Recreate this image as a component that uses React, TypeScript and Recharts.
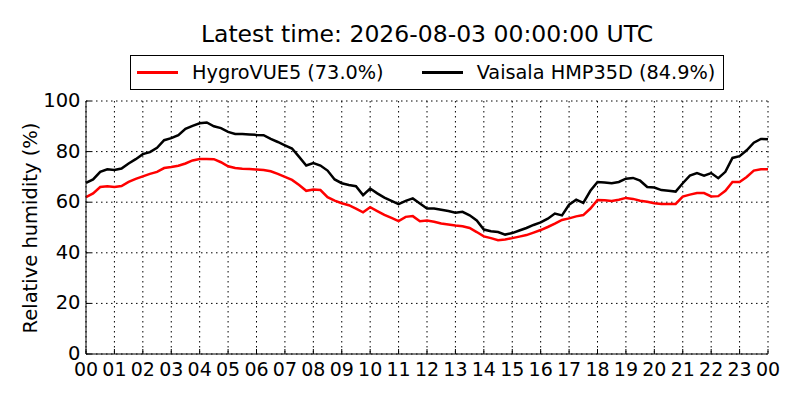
import { LineChart, Line, XAxis, YAxis, CartesianGrid } from 'recharts'

// hours since 00 UTC, 15 min steps
const HOURS = [
  0, 0.25, 0.5, 0.75, 1, 1.25, 1.5, 1.75, 2, 2.25, 2.5, 2.75, 3, 3.25, 3.5, 3.75,
  4, 4.25, 4.5, 4.75, 5, 5.25, 5.5, 5.75, 6, 6.25, 6.5, 6.75, 7, 7.25, 7.5, 7.75,
  8, 8.25, 8.5, 8.75, 9, 9.25, 9.5, 9.75, 10, 10.25, 10.5, 10.75, 11, 11.25, 11.5, 11.75,
  12, 12.25, 12.5, 12.75, 13, 13.25, 13.5, 13.75, 14, 14.25, 14.5, 14.75, 15, 15.25, 15.5, 15.75,
  16, 16.25, 16.5, 16.75, 17, 17.25, 17.5, 17.75, 18, 18.25, 18.5, 18.75, 19, 19.25, 19.5, 19.75,
  20, 20.25, 20.5, 20.75, 21, 21.25, 21.5, 21.75, 22, 22.25, 22.5, 22.75, 23, 23.25, 23.5, 23.75, 24
]

const HYGROVUE = [
  62.0, 63.5, 66.0, 66.3, 66.0, 66.4, 68.0, 69.2, 70.2, 71.2, 72.0, 73.5, 73.9, 74.4, 75.3, 76.5,
  77.1, 77.1, 77.0, 75.8, 74.2, 73.5, 73.2, 73.1, 72.9, 72.7, 72.2, 71.2, 70.0, 68.8, 66.8, 64.5,
  65.0, 64.8, 62.0, 60.6, 59.6, 58.8, 57.5, 56.0, 58.0, 56.5, 55.0, 53.8, 52.5, 54.2, 54.5, 52.5,
  52.8, 52.3, 51.6, 51.2, 50.8, 50.5, 49.8, 48.2, 46.5, 45.8, 45.0, 45.3, 45.8, 46.4, 47.0, 48.0,
  49.0, 50.2, 51.5, 53.0, 53.6, 54.4, 54.9, 57.5, 60.9, 60.8, 60.5, 61.0, 61.7, 61.3, 60.6, 60.2,
  59.6, 59.3, 59.3, 59.3, 62.2, 63.0, 63.6, 63.6, 62.3, 62.4, 64.5, 68.0, 68.0, 70.0, 72.5, 73.0, 73.0
]

const VAISALA = [
  67.6, 69.0, 72.0, 73.0, 72.7, 73.3, 75.3, 77.0, 79.0, 79.8, 81.5, 84.5, 85.3, 86.5, 89.0, 90.2,
  91.2, 91.5, 90.0, 89.3, 87.8, 87.0, 87.0, 86.8, 86.6, 86.5, 85.0, 83.8, 82.5, 81.2, 77.9, 74.5,
  75.5, 74.5, 72.5, 69.0, 67.5, 66.8, 66.3, 62.8, 65.4, 63.5, 61.8, 60.5, 59.2, 60.5, 61.5, 59.5,
  57.5, 57.5, 57.0, 56.5, 55.8, 56.2, 54.8, 52.8, 49.2, 48.5, 48.2, 47.2, 47.8, 48.8, 49.8, 51.0,
  52.0, 53.5, 55.5, 54.8, 59.0, 61.0, 59.7, 64.5, 68.0, 67.8, 67.5, 68.0, 69.3, 69.6, 68.5, 66.0,
  65.8, 64.8, 64.5, 64.2, 67.5, 70.5, 71.5, 70.5, 71.5, 69.5, 72.0, 77.5, 78.2, 80.5, 83.5, 85.0, 84.9
]

const X_TICKS = [0, 1, 2, 3, 4, 5, 6, 7, 8, 9, 10, 11, 12, 13, 14, 15, 16, 17, 18, 19, 20, 21, 22, 23, 24]
const Y_TICKS = [0, 20, 40, 60, 80, 100]

const TITLE = 'Latest time: 2026-08-03 00:00:00 UTC'
const FONT = '"DejaVu Sans", sans-serif'

const data = HOURS.map((h, i) => ({ h, hygro: HYGROVUE[i], vaisala: VAISALA[i] }))

const SERIES = [
  { key: 'hygro', name: 'HygroVUE5', color: '#ff0000', last: HYGROVUE[HYGROVUE.length - 1] },
  { key: 'vaisala', name: 'Vaisala HMP35D', color: '#000000', last: VAISALA[VAISALA.length - 1] }
]

const hourLabel = (h: number) => String(h % 24).padStart(2, '0')

function BottomTick({ x, y, payload }: any) {
  return (
    <g>
      <line x1={x} x2={x} y1={y} y2={y - 5} stroke="#000" />
      <text x={x} y={y + 22} textAnchor="middle" fontSize={19} fontFamily={FONT} fill="#000">
        {hourLabel(payload.value)}
      </text>
    </g>
  )
}

function TopTick({ x, y }: any) {
  return <line x1={x} x2={x} y1={y} y2={y + 5} stroke="#000" />
}

function LeftTick({ x, y, payload }: any) {
  return (
    <g>
      <line x1={x} x2={x + 5} y1={y} y2={y} stroke="#000" />
      <text x={x - 5.5} y={y + 6} textAnchor="end" fontSize={19.5} fontFamily={FONT} fill="#000">
        {payload.value}
      </text>
    </g>
  )
}

function RightTick({ x, y }: any) {
  return <line x1={x} x2={x - 5} y1={y} y2={y} stroke="#000" />
}

export default function App() {
  return (
    <div style={{ position: 'absolute', left: 0, top: 0, width: 800, height: 400, background: '#fff', fontFamily: FONT }}>
      <div style={{ position: 'absolute', left: 86, width: 682, top: 20, textAlign: 'center', fontSize: 23.5, lineHeight: '28px', color: '#000', whiteSpace: 'nowrap' }}>
        {TITLE}
      </div>
      <div
        style={{
          position: 'absolute', left: 130, top: 55, width: 592, height: 33, border: '1px solid #000',
          display: 'flex', alignItems: 'center', fontSize: 19.3, color: '#000', whiteSpace: 'nowrap'
        }}
      >
        {SERIES.map((s, i) => (
          <div key={s.key} style={{ display: 'flex', alignItems: 'center', marginLeft: i === 0 ? 6 : 38 }}>
            <div style={{ width: 41, height: 3, background: s.color, marginRight: 14 }} />
            <span>{`${s.name} (${s.last.toFixed(1)}%)`}</span>
          </div>
        ))}
      </div>
      <div
        style={{
          position: 'absolute', left: 30, top: 228, transform: 'translate(-50%, -50%) rotate(-90deg)',
          fontSize: 19.5, whiteSpace: 'nowrap', color: '#000'
        }}
      >
        Relative humidity (%)
      </div>
      <div style={{ position: 'absolute', left: 0, top: 0 }}>
        <LineChart width={800} height={400} data={data} margin={{ top: 101, right: 32, bottom: 0, left: 0 }}>
          <CartesianGrid stroke="#000" strokeDasharray="1.5 3.5" strokeWidth={1} />
          <XAxis
            dataKey="h" type="number" domain={[0, 24]} ticks={X_TICKS} height={46}
            tickSize={0} tickMargin={0} tick={<BottomTick />} axisLine={{ stroke: '#000' }} interval={0}
          />
          <XAxis
            xAxisId="top" orientation="top" dataKey="h" type="number" domain={[0, 24]} ticks={X_TICKS}
            height={0} tickSize={0} tickMargin={0} tick={<TopTick />} axisLine={{ stroke: '#000' }} interval={0}
          />
          <YAxis
            type="number" domain={[0, 100]} ticks={Y_TICKS} width={86} tickSize={0} tickMargin={0}
            tick={<LeftTick />} axisLine={{ stroke: '#000' }} interval={0}
          />
          <YAxis
            yAxisId="right" orientation="right" type="number" domain={[0, 100]} ticks={Y_TICKS} width={0}
            tickSize={0} tickMargin={0} tick={<RightTick />} axisLine={{ stroke: '#000' }} interval={0}
          />
          {SERIES.map((s) => (
            <Line
              key={s.key} type="linear" dataKey={s.key} stroke={s.color} strokeWidth={2.5}
              dot={false} isAnimationActive={false}
            />
          ))}
        </LineChart>
      </div>
    </div>
  )
}
